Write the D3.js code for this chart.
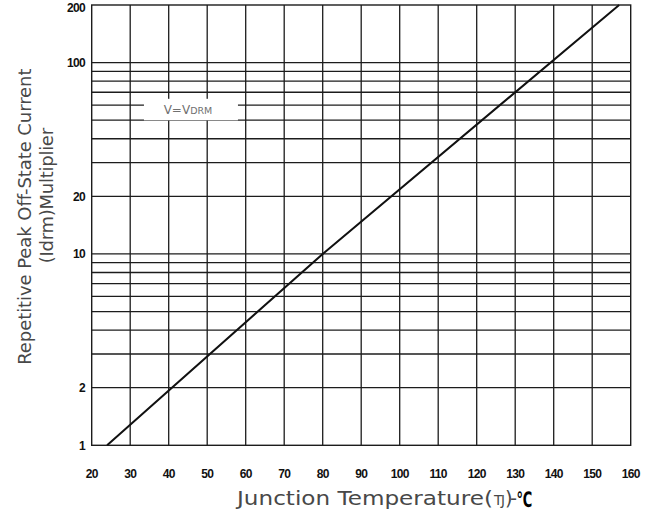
<!DOCTYPE html>
<html><head><meta charset="utf-8">
<script src="https://cdn.jsdelivr.net/npm/d3@7"></script>
<style>body{margin:0;background:#fff}svg{display:block}</style>
</head><body><svg id="c" width="657" height="515"></svg>
<script>
// ---- data ----
const xTickValues = [20, 30, 40, 50, 60, 70, 80, 90, 100, 110, 120, 130, 140, 150, 160];
const yLabelValues = [1, 2, 10, 20, 100, 200];
const yGridValues = [2, 3, 4, 5, 6, 7, 8, 9, 10, 20, 30, 40, 50, 60, 70, 80, 90, 100];
const junctionTemp = [24, 80, 157];       // °C
const idrmMultiplier = [1, 10, 200];      // multiplier
const noteText = ["V=V", "DRM"];
const notePos = [45, 54];                 // (°C, multiplier)
const yTitleLines = ["Repetitive Peak Off-State Current", "(Idrm)Multiplier"];
const xTitleParts = ["Junction Temperature(", "TJ", ")-", "\u2103"];

const svg = d3.select('#c');
const L = 91.7, R = 630.7, T = 5, B = 445.3;
const x = d3.scaleLinear().domain([20, 160]).range([L, R]);
const y = d3.scaleLog().domain([1, 200]).range([B, T]);
const ink = '#1c1c1c';
const tf = 'DejaVu Sans, sans-serif';
const tcol = '#484848';

function fit(sel, target) {
  const n = sel.text().length;
  const w = sel.node().getComputedTextLength();
  sel.attr('letter-spacing', ((target - w) / n).toFixed(3));
}

// grid
const g = svg.append('g');
g.selectAll('line.v').data(xTickValues.slice(1, -1)).join('line')
  .attr('x1', d => x(d)).attr('x2', d => x(d)).attr('y1', T).attr('y2', B)
  .attr('stroke', ink).attr('stroke-width', 1.3);
g.selectAll('line.h').data(yGridValues).join('line')
  .attr('x1', L).attr('x2', R).attr('y1', d => y(d)).attr('y2', d => y(d))
  .attr('stroke', ink).attr('stroke-width', 1.3);

// annotation with white background interrupting the grid
const note = svg.append('text')
  .attr('x', x(notePos[0])).attr('y', y(notePos[1]))
  .attr('text-anchor', 'middle')
  .attr('font-family', tf).attr('fill', '#707070');
note.append('tspan').attr('font-size', 12).text(noteText[0]);
note.append('tspan').attr('font-size', 9.5).text(noteText[1]);
const nb = note.node().getBBox();
const base = y(notePos[1]);
svg.insert('rect', 'text')
  .attr('x', nb.x + nb.width / 2 - 44).attr('y', base - 15)
  .attr('width', 94).attr('height', 21.5)
  .attr('fill', '#fff');

// frame
svg.append('rect').attr('x', L).attr('y', T).attr('width', R - L).attr('height', B - T)
  .attr('fill', 'none').attr('stroke', ink).attr('stroke-width', 1.4);

// data line
const pts = junctionTemp.map((t, i) => [t, idrmMultiplier[i]]);
svg.append('path').datum(pts)
  .attr('d', d3.line().x(d => x(d[0])).y(d => y(d[1])))
  .attr('fill', 'none').attr('stroke', '#111').attr('stroke-width', 2);

// y tick labels
svg.selectAll('text.yl').data(yLabelValues).join('text')
  .attr('x', 85).attr('y', d => Math.max(y(d), 7.5)).attr('dy', '0.36em')
  .attr('text-anchor', 'end')
  .attr('font-family', 'Liberation Sans, Arial, sans-serif').attr('font-weight', 'bold')
  .attr('font-size', 12).attr('letter-spacing', -0.7).attr('fill', '#111')
  .text(d => d);

// x tick labels
svg.selectAll('text.xl').data(xTickValues).join('text')
  .attr('x', d => x(d)).attr('y', 477.5)
  .attr('text-anchor', 'middle')
  .attr('font-family', 'Liberation Sans, Arial, sans-serif').attr('font-weight', 'bold')
  .attr('font-size', 12).attr('letter-spacing', -0.7).attr('fill', '#111')
  .text(d => d);

// x title
const xt = svg.append('text').attr('y', 505)
  .attr('font-family', tf).attr('fill', tcol);
xt.append('tspan').attr('x', 237).attr('font-size', 19.5)
  .attr('textLength', 256).attr('lengthAdjust', 'spacingAndGlyphs').text(xTitleParts[0]);
xt.append('tspan').attr('x', 494).attr('font-size', 13.5).attr('letter-spacing', -1.2).text(xTitleParts[1]);
xt.append('tspan').attr('x', 505).attr('font-size', 19.5).attr('letter-spacing', -2.5).text(xTitleParts[2]);
svg.append('text').attr('transform', 'translate(516.5,506.5) scale(0.62,1)')
  .attr('font-family', tf).attr('font-size', 21).attr('font-weight', 'bold').attr('fill', '#000')
  .text(xTitleParts[3]);

// y title
const y1 = svg.append('text').attr('transform', 'translate(30.5,216.7) rotate(-90)')
  .attr('text-anchor', 'middle')
  .attr('font-family', tf).attr('font-size', 18).attr('fill', tcol)
  .text(yTitleLines[0]);
fit(y1, 297);
const y2 = svg.append('text').attr('transform', 'translate(52.5,195.7) rotate(-90)')
  .attr('text-anchor', 'middle')
  .attr('font-family', tf).attr('font-size', 18).attr('fill', tcol)
  .text(yTitleLines[1]);
fit(y2, 135);
</script></body></html>
